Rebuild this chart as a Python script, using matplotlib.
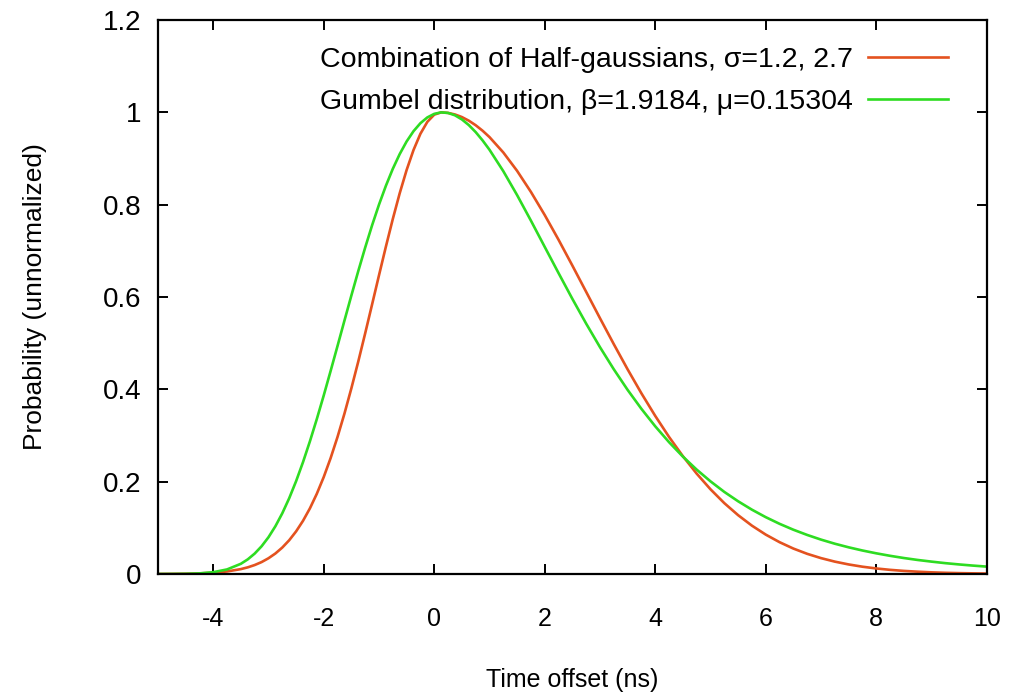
import numpy as np
import matplotlib
matplotlib.use('Agg')
import matplotlib.pyplot as plt

plt.rcParams['font.family'] = ['Liberation Sans', 'DejaVu Sans']

# time offsets (ns); finer around the steep rise and the peak
time_ns = [
    -5, -4.75, -4.5, -4.25, -4, -3.75, -3.5, -3.375, -3.25, -3.125,
    -3, -2.875, -2.75, -2.625, -2.5, -2.375, -2.25, -2.125, -2, -1.875,
    -1.75, -1.625, -1.5, -1.375, -1.25, -1.125, -1, -0.875, -0.75, -0.625,
    -0.5, -0.375, -0.25, -0.125, 0, 0.125, 0.25, 0.375, 0.5, 0.625,
    0.75, 0.875, 1, 1.25, 1.5, 1.75, 2, 2.25, 2.5, 2.75,
    3, 3.25, 3.5, 3.75, 4, 4.25, 4.5, 4.75, 5, 5.25,
    5.5, 5.75, 6, 6.25, 6.5, 6.75, 7, 7.25, 7.5, 7.75,
    8, 8.25, 8.5, 8.75, 9, 9.25, 9.5, 9.75, 10,
]

# combination of half-gaussians
half_gauss = [
    0.0001, 0.0003, 0.0006, 0.0013, 0.0028, 0.0055, 0.0106, 0.0144, 0.0194, 0.0258,
    0.0341, 0.0444, 0.0573, 0.0731, 0.0923, 0.1152, 0.1422, 0.1738, 0.2100, 0.2511,
    0.2970, 0.3474, 0.4021, 0.4602, 0.5212, 0.5838, 0.6469, 0.7091, 0.7689, 0.8247,
    0.8750, 0.9184, 0.9536, 0.9794, 0.9950, 1.0000, 0.9988, 0.9954, 0.9898, 0.9820,
    0.9721, 0.9602, 0.9464, 0.9131, 0.8732, 0.8276, 0.7775, 0.7240, 0.6681, 0.6111,
    0.5540, 0.4978, 0.4433, 0.3913, 0.3424, 0.2968, 0.2552, 0.2174, 0.1835, 0.1535,
    0.1274, 0.1047, 0.0853, 0.0689, 0.0551, 0.0437, 0.0344, 0.0268, 0.0207, 0.0158,
    0.0120, 0.0090, 0.0067, 0.0050, 0.0036, 0.0026, 0.0019, 0.0014, 0.0010,
]

# gumbel curve
gumbel = [
    0.0000, 0.0001, 0.0004, 0.0013, 0.0039, 0.0099, 0.0221, 0.0317, 0.0442, 0.0600,
    0.0796, 0.1034, 0.1315, 0.1641, 0.2011, 0.2423, 0.2874, 0.3357, 0.3867, 0.4399,
    0.4941, 0.5489, 0.6031, 0.6561, 0.7070, 0.7552, 0.8000, 0.8409, 0.8776, 0.9096,
    0.9369, 0.9592, 0.9765, 0.9890, 0.9967, 0.9999, 0.9987, 0.9936, 0.9847, 0.9725,
    0.9572, 0.9392, 0.9190, 0.8726, 0.8207, 0.7654, 0.7085, 0.6518, 0.5960, 0.5423,
    0.4913, 0.4434, 0.3988, 0.3577, 0.3199, 0.2855, 0.2543, 0.2261, 0.2007, 0.1778,
    0.1575, 0.1393, 0.1231, 0.1087, 0.0959, 0.0846, 0.0745, 0.0656, 0.0578, 0.0509,
    0.0448, 0.0394, 0.0346, 0.0304, 0.0268, 0.0235, 0.0207, 0.0182, 0.0160,
]

labels = ['Combination of Half-gaussians, σ=1.2, 2.7',
          'Gumbel distribution, β=1.9184, μ=0.15304']
colors = ['#e4521f', '#2edc22']

x_ticks = [-4, -2, 0, 2, 4, 6, 8, 10]
y_ticks = [0, 0.2, 0.4, 0.6, 0.8, 1, 1.2]
y_ticklabels = ['0', '0.2', '0.4', '0.6', '0.8', '1', '1.2']

fig = plt.figure(figsize=(10.1, 6.95), dpi=100)
ax = fig.add_axes([0.1564, 0.1741, 0.8206, 0.7971])

ax.plot(time_ns, half_gauss, color=colors[0], lw=1.9, label=labels[0])
ax.plot(time_ns, gumbel, color=colors[1], lw=1.9, label=labels[1])

ax.set_xlim(-5, 10)
ax.set_ylim(0, 1.2)
ax.set_xticks(x_ticks)
ax.set_xticklabels([str(t) for t in x_ticks])
ax.set_yticks(y_ticks)
ax.set_yticklabels(y_ticklabels)
ax.tick_params(direction='in', length=7, width=1.4, top=True, right=True)
ax.tick_params(axis='x', pad=23.5, labelsize=18)
ax.tick_params(axis='y', pad=12, labelsize=20)
for s in ax.spines.values():
    s.set_linewidth(1.6)

ax.set_xlabel('Time offset (ns)', fontsize=18, labelpad=27)
ax.set_ylabel('Probability (unnormalized)', fontsize=19, labelpad=40)

ax.legend(loc='upper right', bbox_to_anchor=(0.953, 0.952), markerfirst=False,
          frameon=False, fontsize=20.5, handlelength=2.8, handletextpad=0.53,
          labelspacing=0.59, borderpad=0, borderaxespad=0)

fig.savefig('out.png', dpi=100)
